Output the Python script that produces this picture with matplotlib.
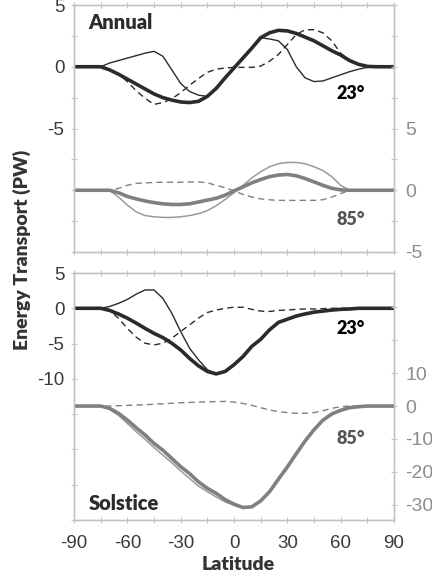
import numpy as np
import matplotlib
matplotlib.use("Agg")
import matplotlib.pyplot as plt

# latitude grid, 5 degree steps
lat = np.arange(-90, 91, 5)

# ---- Annual (top panel), 23 deg on left axis, 85 deg on right axis ----
ann23_total = [0, 0, 0, 0, -0.25, -0.6, -1.0, -1.4, -1.8, -2.2, -2.5, -2.7, -2.85, -2.9, -2.8, -2.4, -1.75,
               -0.9, -0.1, 0.7, 1.5, 2.35, 2.75, 2.95, 2.9, 2.7, 2.4, 2.1, 1.7, 1.3, 0.95, 0.5, 0.2, 0.03, 0, 0, 0]
ann23_thin = [0, 0, 0, 0, 0.3, 0.5, 0.7, 0.9, 1.1, 1.25, 0.85, -0.25, -1.35, -2.0, -2.3, -2.4, -1.75,
              -0.9, -0.1, 0.7, 1.5, 2.35, 2.25, 2.1, 1.4, 0.0, -0.9, -1.2, -1.15, -0.9, -0.65, -0.4, -0.2, -0.05, 0, 0, 0]
ann23_dash = [0, 0, 0, 0, -0.25, -0.6, -1.2, -1.95, -2.55, -3.05, -2.9, -2.6, -2.1, -1.5, -0.95, -0.45, -0.2,
              -0.1, -0.05, -0.05, -0.05, 0.05, 0.45, 1.0, 1.8, 2.6, 3.0, 3.0, 2.75, 2.1, 1.1, 0.5, 0.2, 0.03, 0, 0, 0]
ann85_total = [0, 0, 0, 0, 0, -0.2, -0.5, -0.7, -0.87, -1.0, -1.1, -1.15, -1.15, -1.1, -0.95, -0.8, -0.65,
               -0.4, -0.05, 0.27, 0.6, 0.87, 1.1, 1.23, 1.28, 1.17, 0.95, 0.68, 0.4, 0.16, 0.03, 0, 0, 0, 0, 0, 0]
ann85_thin = [0, 0, 0, 0, 0, -0.55, -1.2, -1.75, -2.05, -2.15, -2.2, -2.2, -2.15, -2.05, -1.9, -1.65, -1.25,
              -0.75, -0.2, 0.38, 1.0, 1.5, 1.9, 2.15, 2.25, 2.25, 2.15, 1.9, 1.6, 1.1, 0.4, 0, 0, 0, 0, 0, 0]
ann85_dash = [0, 0, 0, 0, 0, 0.15, 0.4, 0.55, 0.6, 0.63, 0.65, 0.65, 0.65, 0.67, 0.68, 0.6, 0.4,
              0.2, -0.05, -0.33, -0.55, -0.7, -0.77, -0.82, -0.82, -0.82, -0.82, -0.82, -0.77, -0.55, -0.27, 0, 0, 0, 0, 0, 0]

# ---- Solstice (bottom panel) ----
sol23_total = [0, 0, 0, 0, -0.3, -0.8, -1.4, -2.1, -2.85, -3.55, -4.15, -4.95, -5.9, -7.1, -8.15, -8.95, -9.3,
               -8.95, -8.0, -6.85, -5.4, -4.4, -3.05, -2.0, -1.55, -1.1, -0.8, -0.55, -0.4, -0.25, -0.15, -0.1, 0, 0, 0, 0, 0]
sol23_thin = [0, 0, 0, 0, 0.25, 0.7, 1.25, 2.0, 2.6, 2.6, 1.4, -0.7, -3.3, -5.65, -7.3, -8.7, -9.3,
              -8.95, -8.0, -6.85, -5.4, -4.4, -3.05, -2.0, -1.55, -1.1, -0.8, -0.55, -0.4, -0.25, -0.15, -0.1, 0, 0, 0, 0, 0]
sol23_dash = [0, 0, 0, 0, -0.3, -1.4, -2.85, -4.1, -4.95, -5.2, -4.95, -4.25, -3.3, -2.35, -1.4, -0.6, -0.25,
              0.0, 0.15, 0.15, -0.15, -0.4, -0.45, -0.3, -0.25, -0.15, -0.1, -0.1, -0.05, 0, 0, 0, 0, 0, 0, 0, 0]
sol85_total = [0, 0, 0, 0, -0.7, -2.2, -4.25, -6.6, -8.8, -11.35, -13.4, -15.9, -18.4, -20.5, -23.0, -25.0, -26.5,
               -28.4, -29.8, -30.8, -30.6, -28.8, -26.0, -22.2, -18.5, -14.5, -10.6, -7.2, -4.3, -2.4, -1.3, -0.5, -0.2, 0, 0, 0, 0]
sol85_thin = [0, 0, 0, 0, -1.0, -2.8, -5.3, -7.8, -10.1, -12.6, -14.9, -17.2, -19.7, -22.0, -24.3, -26.0, -27.6,
              -29.1, -30.1, -30.9, -30.6, -28.8, -26.0, -22.2, -18.5, -14.5, -10.6, -7.2, -4.3, -2.4, -1.3, -0.5, -0.2, 0, 0, 0, 0]
sol85_dash = [0, 0, 0, 0, 0, 0.1, 0.2, 0.3, 0.4, 0.55, 0.7, 0.85, 1.0, 1.1, 1.2, 1.3, 1.35,
              1.4, 1.2, 0.8, 0.2, -0.5, -1.2, -1.7, -2.0, -2.2, -2.2, -2.0, -1.4, -0.7, -0.2, 0, 0, 0, 0, 0, 0]

xticks = np.arange(-90, 91, 15)
xlabels = [-90, -60, -30, 0, 30, 60, 90]

DARK = "#2b2b2b"
GRAY = "#808080"
LGRAY = "#9a9a9a"
SPINE = "#c4c4c4"
TICKF = "Liberation Sans"
BOLDF = "Lato"

plt.rcParams["font.family"] = [TICKF, "DejaVu Sans"]

fig = plt.figure(figsize=(4.32, 5.8), dpi=100)
ax1 = fig.add_axes([74/432, 1-252/580, 320/432, 247/580])
ax2 = fig.add_axes([74/432, 1-520/580, 320/432, 247/580])


def style(ax, right=False):
    for s in ax.spines.values():
        s.set_color(SPINE)
        s.set_linewidth(1.0)
    ax.tick_params(axis="both", direction="inout", length=4, width=0.8, color=SPINE,
                   labelsize=13.5, labelcolor="#8c8c8c" if right else "#3a3a3a")
    ax.tick_params(axis="y", pad=5)


def label_only(ax, ticks, shown, fmt=lambda v: f"{v:g}"):
    ax.set_yticks(ticks)
    ax.set_yticklabels([fmt(t) if any(abs(t - s) < 1e-9 for s in shown) else "" for t in ticks])


def draw(ax, axr, d23, d85):
    tot, thin, dash = d23
    ax.plot(lat, dash, color=DARK, lw=1.0, ls=(0, (4.5, 3)))
    ax.plot(lat, thin, color=DARK, lw=1.0)
    ax.plot(lat, tot, color=DARK, lw=2.6, solid_capstyle="round")
    tot, thin, dash = d85
    axr.plot(lat, dash, color=GRAY, lw=1.0, ls=(0, (4.5, 3)))
    axr.plot(lat, thin, color=LGRAY, lw=1.1)
    axr.plot(lat, tot, color=GRAY, lw=2.6, solid_capstyle="round")


# top panel
ax1r = ax1.twinx()
draw(ax1, ax1r, (ann23_total, ann23_thin, ann23_dash), (ann85_total, ann85_thin, ann85_dash))
ax1.set_ylim(-15, 5)
ax1r.set_ylim(-5, 15)
label_only(ax1, np.arange(-15, 5.1, 2.5), [5, 0, -5])
label_only(ax1r, np.arange(-5, 15.1, 2.5), [5, 0, -5])

# bottom panel
ax2r = ax2.twinx()
draw(ax2, ax2r, (sol23_total, sol23_thin, sol23_dash), (sol85_total, sol85_thin, sol85_dash))
ax2.set_ylim(-30, 5)
ax2r.set_ylim(-34.6, 40.4)
label_only(ax2, np.arange(-30, 5.1, 5), [5, 0, -5, -10])
label_only(ax2r, np.arange(-30, 30.1, 10), [10, 0, -10, -20, -30])

for ax in (ax1, ax2):
    ax.set_xlim(-90, 90)
    ax.set_xticks(xticks)
    ax.tick_params(axis="x", top=True)
    style(ax)
for ax in (ax1r, ax2r):
    style(ax, right=True)
    ax.tick_params(axis="y", labelsize=14, pad=6)
ax1.set_xticklabels([])
ax2.set_xticklabels([str(v) if v in xlabels else "" for v in xticks])
ax2.tick_params(axis="x", pad=9)

tk = dict(fontfamily=BOLDF, fontweight="heavy")
ax1.text(-82, 3.6, "Annual", fontsize=14.5, color=DARK, ha="left", va="center", **tk)
ax1.text(57.5, -2.2, "23°", fontsize=13, color="black", ha="left", va="center", **tk)
ax1.text(57.5, -12.4, "85°", fontsize=13, color="#555555", ha="left", va="center", **tk)
ax2.text(57.5, -2.9, "23°", fontsize=13, color="black", ha="left", va="center", **tk)
ax2.text(57.5, -18.4, "85°", fontsize=13, color="#555555", ha="left", va="center", **tk)
ax2.text(-82, -27.7, "Solstice", fontsize=14.5, color=DARK, ha="left", va="center", **tk)

fig.text(0.051, 0.569, "Energy Transport (PW)", rotation=90, fontsize=14, color="#333333",
         ha="center", va="center", **tk)
fig.text(238/432, 1-565/580, "Latitude", fontsize=14, color="#333333", ha="center", va="center", **tk)

fig.savefig("out.png", dpi=100)
